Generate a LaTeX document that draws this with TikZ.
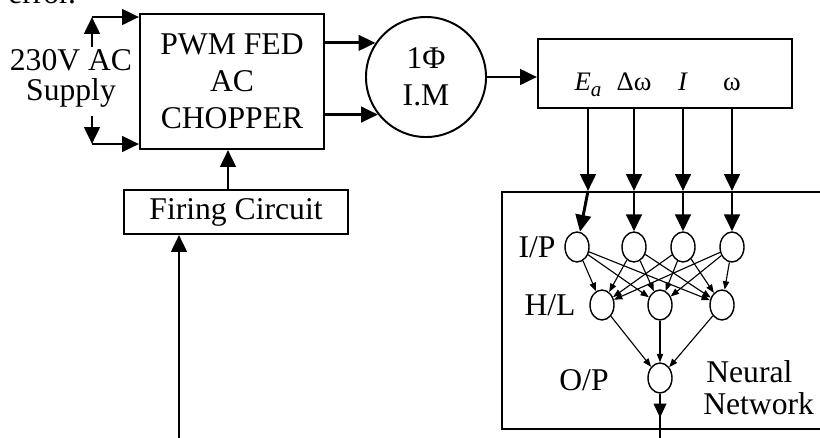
\documentclass[tikz,border=0pt]{standalone}
\usepackage{fontspec}
\setmainfont{Liberation Serif}
\usetikzlibrary{arrows.meta,shapes.geometric,calc}

\tikzset{
  blk/.style={draw, line width=1.4pt, inner sep=0pt, align=center},
  bigarr/.style={line width=2.1pt, -{Triangle[length=12pt,width=11pt]}},
  smallarr/.style={line width=0.8pt, -{Triangle[length=6pt,width=4.5pt]}},
  neuron/.style={draw, ellipse, line width=1pt, minimum width=0.6cm, minimum height=0.75cm, inner sep=0pt},
  sig/.style={inner sep=0pt, font=\fontsize{19}{20}\selectfont},
}

\begin{document}
\begin{tikzpicture}[x=0.025cm, y=-0.025cm, font=\fontsize{22.5}{26.5}\selectfont]
    \clip (0,0) rectangle (820,437);

    % text of the page above, cut off
    \node[anchor=base west, inner sep=0pt] (err) at (8,3) {error.};

    % blocks
    \node[blk, minimum width=4.6cm, minimum height=3.375cm] (chopper) at (232,81.5) {PWM FED\\AC\\CHOPPER};
    \node[blk, circle, minimum size=3cm] (motor) at (426,77) {1Φ\\I.M};
    \node[blk, minimum width=6.35cm, minimum height=1.725cm] (meas) at (665,73.5) {};
    \node[blk, minimum width=5.6cm, minimum height=1.1cm] (firing) at (236,212) {Firing Circuit};
    \node[blk, minimum width=8.2cm, minimum height=5.925cm] (nn) at (666,310.5) {};

    % supply
    \node[inner sep=0pt, align=center] (supply) at (71,78) {230V AC\\[-5.2pt]Supply};
    \coordinate (s1) at (92,17);
    \coordinate (s1b) at (92,47);
    \coordinate (s2) at (92,144);
    \coordinate (s2b) at (92,116);
    \draw[bigarr] (s1b) -- (s1);
    \draw[bigarr] (s1) -- (s1 -| chopper.west);
    \draw[bigarr] (s2b) -- (s2);
    \draw[bigarr] (s2) -- (s2 -| chopper.west);

    % chopper -> motor -> measurement
    \draw[bigarr] (chopper.east |- motor.146) -- (motor.146);
    \draw[bigarr] (chopper.east |- motor.218) -- (motor.218);
    \draw[bigarr] (motor.east) -- (motor.east -| meas.west);

    % firing circuit
    \draw[bigarr] ([xshift=-0.2cm]firing.north) -- ([xshift=-0.2cm]firing.north |- chopper.south);
    \coordinate (fin) at (179,445);
    \draw[bigarr] (fin) -- (fin |- firing.south);

    % measured signals
    \node[sig, anchor=base] (ea) at (588,90) {\textit{E}\raisebox{-0.5ex}{\fontsize{15}{15}\selectfont\textit{a}}};
    \node[sig, anchor=base] (dw) at (634,90) {Δω};
    \node[sig, anchor=base] (ii) at (683,90) {\textit{I}};
    \node[sig, anchor=base] (om) at (732,90) {ω};

    % neurons
    \node[neuron] (ip1) at (577,247) {};
    \node[neuron] (ip2) at (634,247) {};
    \node[neuron] (ip3) at (683,247) {};
    \node[neuron] (ip4) at (732,247) {};
    \node[neuron] (hl1) at (602,305) {};
    \node[neuron] (hl2) at (660,305) {};
    \node[neuron] (hl3) at (722,305) {};
    \node[neuron] (op) at (660,378) {};

    \node (iplbl) at (537,247) {I/P};
    \node (hllbl) at (550,305) {H/L};
    \node (oplbl) at (584,380) {O/P};
    \node[anchor=west, inner sep=0pt] (nnlbl1) at (706,372) {Neural};
    \node[anchor=west, inner sep=0pt] (nnlbl2) at (703,404) {Network};

    % signals into the network
    \foreach \s/\n in {ea/ip1,dw/ip2,ii/ip3,om/ip4} {
        \draw[bigarr] (\s |- meas.south) -- (\s |- nn.north);
        \draw[bigarr] (\s |- nn.north) -- (\n);
    }

    % connections
    \foreach \i in {1,...,4}
        \foreach \h in {1,2,3}
            \draw[smallarr] (ip\i) -- (hl\h);
    \foreach \h in {1,2,3}
        \draw[smallarr] (hl\h) -- (op);

    % output
    \coordinate (nnout) at (660,445);
    \draw[line width=1pt] (op.south) -- (nnout);
    \draw[line width=1pt, -{Triangle[length=10pt,width=9pt]}] (op.south) -- ++(0,24);
\end{tikzpicture}
\end{document}
